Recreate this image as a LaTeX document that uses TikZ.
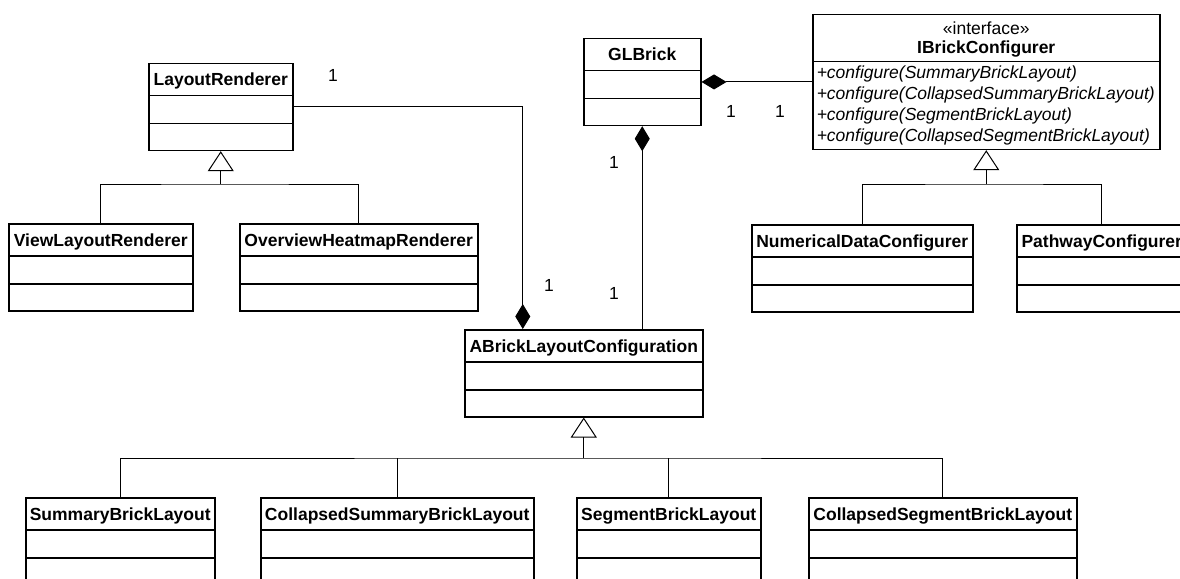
\documentclass[tikz,border=0pt]{standalone}
\usepackage{fontspec}
\setmainfont{Liberation Sans}
\usetikzlibrary{shapes.multipart,arrows.meta}

\renewcommand{\arraystretch}{0}
\tikzset{
  umlclass/.style={rectangle split, rectangle split parts=3, draw, line width=1.5pt,
    inner xsep=4pt, inner ysep=0pt, anchor=north west, font=\fontsize{17.5}{20}\selectfont},
  umliface/.style={umlclass, rectangle split parts=2, rectangle split part align={center,left}},
  link/.style={line width=1pt},
  gen/.style={link, -{Triangle[open,length=20pt,width=26pt]}},
  comp/.style={link, -{Diamond[length=25pt,width=15pt]}},
  mult/.style={font=\fontsize{17.5}{20}\selectfont}
}
% titolo + due scomparti vuoti
\newcommand{\clsname}[1]{\rule[-8.8pt]{0pt}{30.5pt}\textbf{#1}\nodepart{two}\rule{0pt}{26.5pt}\nodepart{three}\rule{0pt}{25.5pt}}
\newcommand{\oprow}[1]{\rule[-4.5pt]{0pt}{21pt}\textit{#1}}

\begin{document}
\begin{tikzpicture}[x=1pt,y=-1pt]
    \useasboundingbox (0,0) rectangle (1180,578);
    \clip (0,0) rectangle (1180,578);

    % Renderer
    \node[umlclass, minimum width=144pt] (lr) at (148,62.7) {\clsname{LayoutRenderer}};
    \node[umlclass, minimum width=184pt] (vlr) at (8,223) {\clsname{ViewLayoutRenderer}};
    \node[umlclass, minimum width=238pt] (ohr) at (239,223) {\clsname{OverviewHeatmapRenderer}};

    % Brick e configurer
    \node[umlclass, minimum width=117pt] (glb) at (583,37.7) {\clsname{GLBrick}};
    \node[umliface, minimum width=347pt] (ibc) at (812,13.7) {%
        \begin{tabular}{@{}c@{}}
        \rule[-4pt]{0pt}{23.5pt}«interface»\\
        \rule[-7pt]{0pt}{22pt}\textbf{IBrickConfigurer}
        \end{tabular}
        \nodepart{two}
        \begin{tabular}{@{}l@{}}
        \oprow{+configure(SummaryBrickLayout)}\\
        \oprow{+configure(CollapsedSummaryBrickLayout)}\\
        \oprow{+configure(SegmentBrickLayout)}\\
        \rule[-7pt]{0pt}{23.5pt}\textit{+configure(CollapsedSegmentBrickLayout)}
        \end{tabular}};
    \node[umlclass, minimum width=221pt] (ndc) at (751,224) {\clsname{NumericalDataConfigurer}};
    \node[umlclass, minimum width=170pt] (pwc) at (1016,224) {\clsname{PathwayConfigurer}};

    % Layout
    \node[umlclass, minimum width=238pt] (ablc) at (464,329) {\clsname{ABrickLayoutConfiguration}};
    \node[umlclass, minimum width=189pt] (sbl) at (25,497) {\clsname{SummaryBrickLayout}};
    \node[umlclass, minimum width=273pt] (csbl) at (260,497) {\clsname{CollapsedSummaryBrickLayout}};
    \node[umlclass, minimum width=184pt] (segbl) at (576,497) {\clsname{SegmentBrickLayout}};
    \node[umlclass, minimum width=268pt] (csegbl) at (808,497) {\clsname{CollapsedSegmentBrickLayout}};

    % Ereditarieta
    \coordinate (lrjoin) at (lr.south |- 0,184);
    \draw[link] (vlr.north) |- (lrjoin) -| (ohr.north);
    \draw[gen] (lrjoin) -- (lr.south);

    \coordinate (ibcjoin) at (ibc.south |- 0,184);
    \draw[link] (ndc.north) |- (ibcjoin) -| (pwc.north);
    \draw[gen] (ibcjoin) -- (ibc.south);

    \coordinate (ablcjoin) at (ablc.south |- 0,458);
    \draw[link] (sbl.north) |- (ablcjoin) -| (csegbl.north);
    \draw[link] (csbl.north) -- (csbl.north |- ablcjoin);
    \draw[link] (segbl.north) -- (segbl.north |- ablcjoin);
    \draw[gen] (ablcjoin) -- (ablc.south);

    % Composizioni
    \draw[comp] (lr.east) -| ([xshift=-61pt]ablc.north);
    \draw[comp] (ibc.west |- glb.east) -- (glb.east);
    \draw[comp] (glb.south |- ablc.north) -- (glb.south);

    % Molteplicita
    \node[mult] (m-lr) at (333,75) {1};
    \node[mult] (m-ablc-lr) at (549,285) {1};
    \node[mult] (m-glb-down) at (614,162) {1};
    \node[mult] (m-ablc-glb) at (614,293) {1};
    \node[mult] (m-glb-right) at (731,111) {1};
    \node[mult] (m-ibc) at (780,111) {1};
\end{tikzpicture}
\end{document}
